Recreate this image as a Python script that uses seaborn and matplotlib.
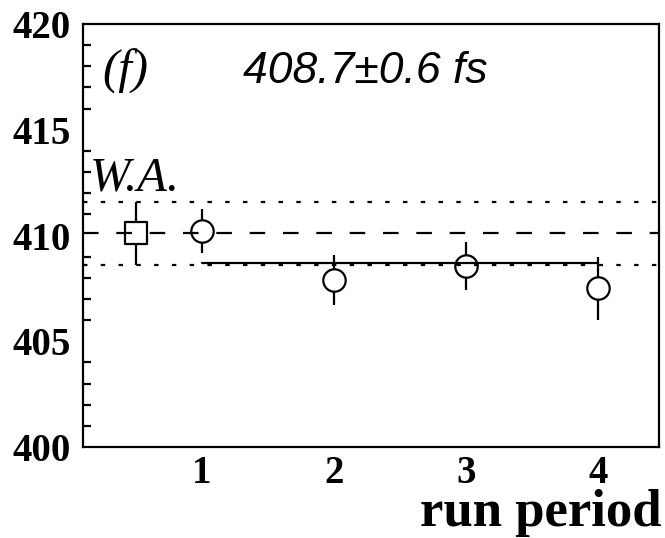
import matplotlib
matplotlib.use("Agg")
import matplotlib.pyplot as plt
import seaborn as sns
import pandas as pd
from matplotlib.ticker import MultipleLocator

# ---- data ----
run_period = [1, 2, 3, 4]
lifetime = [410.2, 407.9, 408.55, 407.5]
lifetime_err = [1.05, 1.2, 1.15, 1.5]

wa_pos = [0.5]
wa_value = [410.1]
wa_err = [1.5]

fit_value = 408.7
fit_err = 0.6
fit_range = [1, 4]

yticks = [400, 405, 410, 415, 420]
xticks = [1, 2, 3, 4]
panel_label = "(f)"
fit_label = "408.7\u00b10.6 fs"
wa_label = "W.A."
xlabel = "run period"

sns.set_style("white")
plt.rcParams["font.family"] = ["Liberation Serif", "DejaVu Serif"]
plt.rcParams["text.color"] = "black"
plt.rcParams["axes.labelcolor"] = "black"
plt.rcParams["xtick.color"] = "black"
plt.rcParams["ytick.color"] = "black"

fig = plt.figure(figsize=(6.65, 5.38), dpi=100)
ax = fig.add_axes([83 / 665, 91 / 538, 576 / 665, 423 / 538])

lw = 1.6
runs = pd.DataFrame({"run": run_period, "tau": lifetime, "err": lifetime_err})
wa = pd.DataFrame({"run": wa_pos, "tau": wa_value, "err": wa_err})

# error bars (no caps)
ax.errorbar(runs["run"], runs["tau"], yerr=runs["err"], fmt="none",
            ecolor="black", elinewidth=lw, capsize=0, zorder=2)
ax.errorbar(wa["run"], wa["tau"], yerr=wa["err"], fmt="none",
            ecolor="black", elinewidth=lw, capsize=0, zorder=2)

# markers
sns.scatterplot(data=runs, x="run", y="tau", marker="o", s=260,
                facecolor="white", edgecolor="black", linewidth=lw,
                zorder=3, ax=ax, legend=False)
sns.scatterplot(data=wa, x="run", y="tau", marker="s", s=230,
                facecolor="white", edgecolor="black", linewidth=lw,
                zorder=3, ax=ax, legend=False)

# reference lines
ax.axhline(wa_value[0], color="black", lw=lw, ls=(0, (7.0, 8.0)), zorder=4)
ax.axhline(wa_value[0] + wa_err[0], color="black", lw=lw, ls=(0, (2, 6)), zorder=4)
ax.axhline(wa_value[0] - wa_err[0], color="black", lw=lw, ls=(0, (2, 6)), zorder=4)
fit_df = pd.DataFrame({"run": fit_range, "tau": [fit_value, fit_value]})
sns.lineplot(data=fit_df, x="run", y="tau", color="black", lw=lw, zorder=4, ax=ax)

ax.set_xlim(0.1, 4.46)
ax.set_ylim(400, 420)
ax.set_xticks(xticks)
ax.set_xticklabels([str(t) for t in xticks])
ax.set_yticks(yticks)
ax.set_yticklabels([str(t) for t in yticks])
ax.yaxis.set_minor_locator(MultipleLocator(1))

for sp in ax.spines.values():
    sp.set_linewidth(lw)
    sp.set_color("black")

ax.tick_params(axis="both", which="major", direction="in", length=11,
               width=lw, labelsize=28, top=False, right=False)
ax.tick_params(axis="y", which="minor", direction="in", length=6,
               width=lw, left=True, right=False)
ax.tick_params(axis="y", which="major", pad=9)
ax.tick_params(axis="x", which="major", pad=6)
for lab in ax.get_xticklabels() + ax.get_yticklabels():
    lab.set_fontweight("bold")

ax.set_xlabel("")
ax.set_ylabel("")
fig.text(662 / 665, 0.022, xlabel, fontsize=38, fontweight="bold",
         ha="right", va="baseline")

ax.text(0.033, 0.86, panel_label, transform=ax.transAxes, fontsize=35,
        fontstyle="italic", ha="left", va="baseline",
        family=["Liberation Serif"])
ax.text(0.278, 0.86, fit_label, transform=ax.transAxes, fontsize=32,
        fontstyle="italic", ha="left", va="baseline",
        family=["Liberation Sans"])
ax.text(0.012, 0.607, wa_label, transform=ax.transAxes, fontsize=35,
        fontstyle="italic", ha="left", va="baseline",
        family=["Liberation Serif"])

fig.savefig("out.png", dpi=100)
